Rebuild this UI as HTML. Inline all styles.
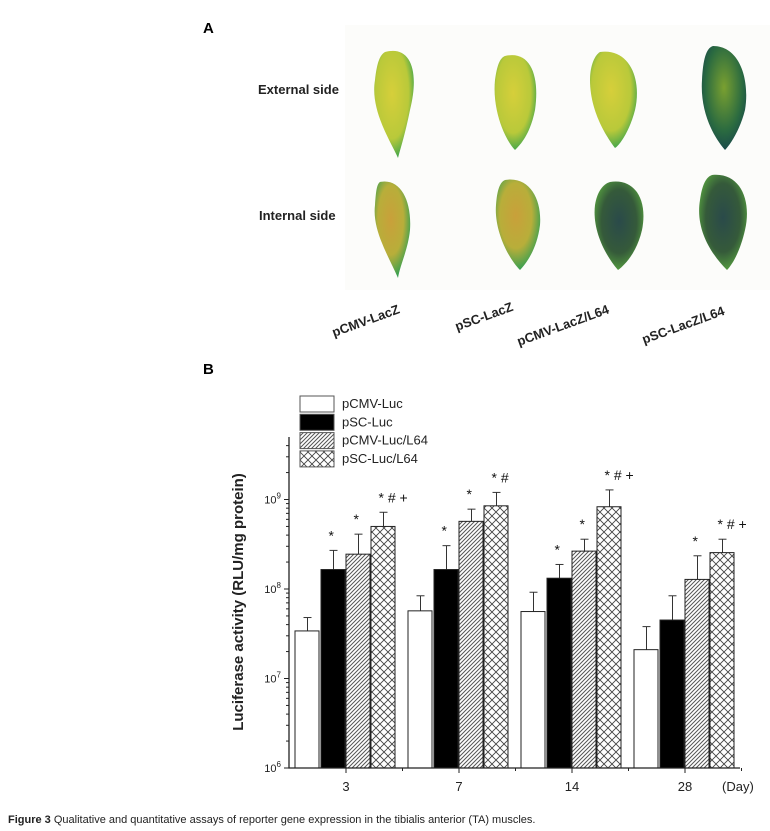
<!DOCTYPE html>
<html><head><meta charset="utf-8"><style>
html,body{margin:0;padding:0;background:#fff;}
svg{display:block;font-family:"Liberation Sans",Arial,sans-serif;}
</style></head><body>
<svg id="fig" width="770" height="831" viewBox="0 0 770 831">
<defs>
<pattern id="diag" patternUnits="userSpaceOnUse" width="4" height="4">
<rect width="4" height="4" fill="#fff"/>
<path d="M-1,1 l2,-2 M0,4 l4,-4 M3,5 l2,-2" stroke="#555" stroke-width="1"/>
</pattern>
<pattern id="cross" patternUnits="userSpaceOnUse" width="8" height="8">
<rect width="8" height="8" fill="#fff"/>
<path d="M0,0 L8,8 M8,0 L0,8" stroke="#444" stroke-width="0.9"/>
</pattern>
<radialGradient id="g1" cx="45%" cy="40%" r="60%"><stop offset="0" stop-color="#d6cf3a"/><stop offset="0.7" stop-color="#b9c93a"/><stop offset="1" stop-color="#4aa84a"/></radialGradient>
<radialGradient id="g2" cx="45%" cy="40%" r="60%"><stop offset="0" stop-color="#c9a03a"/><stop offset="0.6" stop-color="#b8ae3a"/><stop offset="1" stop-color="#3aa050"/></radialGradient>
<radialGradient id="g3" cx="50%" cy="45%" r="60%"><stop offset="0" stop-color="#2a4a4a"/><stop offset="0.6" stop-color="#355a3a"/><stop offset="1" stop-color="#5aa840"/></radialGradient>
<radialGradient id="g4" cx="50%" cy="40%" r="60%"><stop offset="0" stop-color="#7aa030"/><stop offset="0.7" stop-color="#2a6a40"/><stop offset="1" stop-color="#1a4a4a"/></radialGradient>
</defs>

<text x="203" y="33" font-size="15" font-weight="bold">A</text>
<rect x="345" y="25" width="425" height="265" fill="#fcfcfa"/>
<text x="258" y="94" font-size="13" font-weight="bold" fill="#222">External side</text>
<text x="259" y="220" font-size="13" font-weight="bold" fill="#222">Internal side</text>
<g>
<path d="M385,52 C410,45 420,70 410,110 C405,135 400,150 398,158 C390,140 370,110 375,80 C377,62 380,55 385,52Z" fill="url(#g1)"/>
<path d="M505,56 C530,50 540,75 535,110 C530,135 520,145 515,150 C505,140 492,110 495,80 C497,65 500,58 505,56Z" fill="url(#g1)"/>
<path d="M600,52 C630,48 642,80 635,110 C630,130 620,145 615,148 C605,135 590,110 590,80 C590,65 595,55 600,52Z" fill="url(#g1)"/>
<path d="M713,46 C740,46 750,80 745,110 C740,130 730,145 725,150 C712,135 700,110 702,80 C703,60 706,48 713,46Z" fill="url(#g4)"/>
</g>
<g>
<path d="M380,182 C400,178 412,200 410,230 C408,250 400,265 398,278 C388,255 372,230 375,205 C376,190 377,184 380,182Z" fill="url(#g2)"/>
<path d="M505,180 C530,176 542,200 540,225 C537,250 525,265 520,270 C508,258 494,230 496,205 C497,190 500,182 505,180Z" fill="url(#g2)"/>
<path d="M610,182 C635,178 648,200 642,230 C637,252 625,265 618,270 C605,255 592,230 595,205 C597,192 603,184 610,182Z" fill="url(#g3)"/>
<path d="M712,175 C740,172 752,200 745,230 C740,252 732,265 727,270 C712,255 695,230 700,200 C702,185 706,177 712,175Z" fill="url(#g3)"/>
</g>
<g font-size="13" font-weight="bold" fill="#222">
<text transform="translate(334,337) rotate(-20)">pCMV-LacZ</text>
<text transform="translate(457,331) rotate(-20)">pSC-LacZ</text>
<text transform="translate(519,346) rotate(-20)">pCMV-LacZ/L64</text>
<text transform="translate(644,344) rotate(-20)">pSC-LacZ/L64</text>
</g>

<text x="203" y="374" font-size="15" font-weight="bold">B</text>
<g id="chart"></g>

<text x="8" y="823" font-size="11" fill="#222"><tspan font-weight="bold">Figure 3</tspan> Qualitative and quantitative assays of reporter gene expression in the tibialis anterior (TA) muscles.</text>
</svg>
<script>
const days = ["3","7","14","28"];
const seriesNames = ["pCMV-Luc","pSC-Luc","pCMV-Luc/L64","pSC-Luc/L64"];
const pcmvLuc = [3.4e7, 5.7e7, 5.6e7, 2.1e7];
const pscLuc = [1.65e8, 1.65e8, 1.32e8, 4.5e7];
const pcmvLucL64 = [2.45e8, 5.7e8, 2.65e8, 1.28e8];
const pscLucL64 = [5.0e8, 8.5e8, 8.3e8, 2.55e8];
const pcmvLucErr = [4.8e7, 8.4e7, 9.2e7, 3.8e7];
const pscLucErr = [2.7e8, 3.05e8, 1.88e8, 8.4e7];
const pcmvLucL64Err = [4.1e8, 7.8e8, 3.6e8, 2.35e8];
const pscLucL64Err = [7.2e8, 1.2e9, 1.28e9, 3.6e8];
const sigMarks = [["","*","*","* # +"],["","*","*","* #"],["","*","*","* # +"],["","","*","* # +"]];
const yTickExp = [6,7,8,9];

const NS="http://www.w3.org/2000/svg";
const g=document.getElementById('chart');
const x0=289,x1=740,yBase=768,dec=89.5,yMinExp=6,yTop=437;
const groupStart=295,groupStep=113,barW=25;
function yS(v){return yBase-(Math.log10(v)-yMinExp)*dec;}
function xBar(gi,si){return groupStart+gi*groupStep+si*barW+(si>0?1:0);}
function xCenter(gi){return groupStart+gi*groupStep+2*barW+1;}
function mk(t,a,p){const e=document.createElementNS(NS,t);for(const k in a)e.setAttribute(k,a[k]);(p||g).appendChild(e);return e;}
const vals=[pcmvLuc,pscLuc,pcmvLucL64,pscLucL64];
const errs=[pcmvLucErr,pscLucErr,pcmvLucL64Err,pscLucL64Err];
const fills=["#fff","#000","url(#diag)","url(#cross)"];
const sNames=["pcmv-luc","psc-luc","pcmv-luc-l64","psc-luc-l64"];
for(let gi=0;gi<days.length;gi++){
 for(let si=0;si<4;si++){
  const v=vals[si][gi],e=errs[si][gi];
  const bx=xBar(gi,si),by=yS(v);
  const cx=bx+barW/2;
  const eb=mk('line',{x1:cx,x2:cx,y1:by,y2:yS(e),stroke:'#333','stroke-width':1});
  
  
  const ec=mk('line',{x1:cx-4,x2:cx+4,y1:yS(e),y2:yS(e),stroke:'#333','stroke-width':1});
  
  
  const r=mk('rect',{x:bx,y:by,width:barW-1,height:yBase-by,fill:fills[si],stroke:'#222','stroke-width':1});
  
  
  const s=sigMarks[gi][si];
  if(s){const t=mk('text',{x:cx-5,y:yS(e)-10,'font-size':14,fill:'#111'});t.textContent=s;
   
   }
 }
 const tk=mk('line',{x1:xCenter(gi),x2:xCenter(gi),y1:yBase,y2:yBase+5,stroke:'#222'});
 
 
 const mt=mk('line',{x1:xCenter(gi)+groupStep/2,x2:xCenter(gi)+groupStep/2,y1:yBase,y2:yBase+3,stroke:'#222'});
 
 
 const tl=mk('text',{x:xCenter(gi),y:yBase+23,'font-size':13,'text-anchor':'middle',fill:'#222'});
 tl.textContent=days[gi];
 
 
}
const ax=mk('path',{d:`M${x0},${yTop} V${yBase} H${x1}`,fill:'none',stroke:'#222','stroke-width':1.3});


const dl=mk('text',{x:722,y:yBase+23,'font-size':13,fill:'#222'});dl.textContent='(Day)';


for(let e=yMinExp;e<=9;e++){
 for(let m=1;m<10;m++){
  const y=yS(m*Math.pow(10,e)); if(y<yTop)break;
  const len=m===1?5:3;
  const t=mk('line',{x1:x0-len,x2:x0,y1:y,y2:y,stroke:'#222'});
  
  
 }
}
for(const e of yTickExp){
 const t=mk('text',{x:x0-8,y:yS(Math.pow(10,e))+4,'font-size':11,'text-anchor':'end',fill:'#222'});
 t.innerHTML='10<tspan dy="-5" font-size="8">'+e+'</tspan>';
 
 
}
const yl=mk('text',{transform:'translate(243,602) rotate(-90)','font-size':15,'font-weight':'bold','text-anchor':'middle',fill:'#222'});
yl.textContent='Luciferase activity (RLU/mg protein)';


for(let si=0;si<4;si++){
 const y=396+si*18.3;
 const b=mk('rect',{x:300,y:y,width:34,height:16,fill:fills[si],stroke:'#555','stroke-width':1});
 
 
 const t=mk('text',{x:342,y:y+12,'font-size':13,fill:'#222'});t.textContent=seriesNames[si];
 
 
}
</script>
</body></html>
